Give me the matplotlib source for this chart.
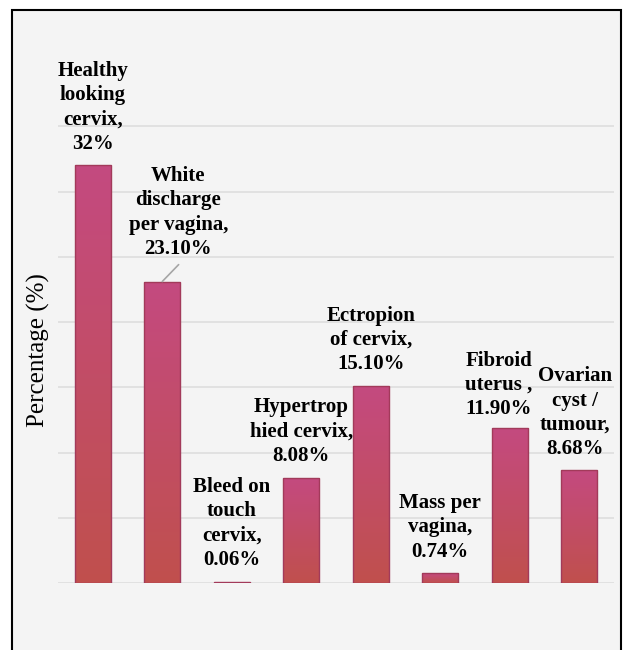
import matplotlib
matplotlib.use('Agg')
import matplotlib.pyplot as plt
import numpy as np
from matplotlib.colors import LinearSegmentedColormap
from matplotlib.patches import Rectangle

# findings and their share (%)
labels = ["Healthy\nlooking\ncervix,\n32%",
          "White\ndischarge\nper vagina,\n23.10%",
          "Bleed on\ntouch\ncervix,\n0.06%",
          "Hypertrop\nhied cervix,\n8.08%",
          "Ectropion\nof cervix,\n15.10%",
          "Mass per\nvagina,\n0.74%",
          "Fibroid\nuterus ,\n11.90%",
          "Ovarian\ncyst /\ntumour,\n8.68%"]
values = [32, 23.1, 0.06, 8.08, 15.1, 0.74, 11.9, 8.68]

# label offsets from bar top (pixels)
offsets = [(0, 58), (16, 69), (0, 59), (0, 46), (0, 46), (0, 46), (-11, 43), (-4, 57)]

W, H = 623, 650
fig = plt.figure(figsize=(W / 100, H / 100), dpi=100)
fig.patch.set_facecolor('white')
fig.add_artist(Rectangle((12 / W, -0.02), (621 - 12) / W, (H - 10) / H + 0.02,
                         transform=fig.transFigure, facecolor='#f4f4f4',
                         edgecolor='black', lw=1.5, zorder=0))

ax = fig.add_axes([58 / W, 1 - 583 / H, (614 - 58) / W, (583 - 61) / H])
ax.set_facecolor('none')

x = np.arange(len(values))
bars = ax.bar(x, values, width=0.52, facecolor='none', edgecolor='#a23a5a',
              lw=1.0, zorder=3)

cmap = LinearSegmentedColormap.from_list('grad', ['#c0504d', '#c44a80'])
grad = np.linspace(0, 1, 256).reshape(-1, 1)
for b in bars:
    x0, w, h = b.get_x(), b.get_width(), b.get_height()
    im = ax.imshow(grad, origin='lower', extent=(x0, x0 + w, 0, h), cmap=cmap,
                   aspect='auto', zorder=2, interpolation='bilinear')
    im.set_clip_path(b)

ax.set_xlim(-0.5, len(values) - 0.5)
ax.set_ylim(0, 40)
ax.set_yticks(range(0, 36, 5))
ax.yaxis.grid(True, color='#e0e0e0', lw=1.3)
ax.set_axisbelow(True)
ax.tick_params(left=False, labelleft=False, bottom=False, labelbottom=False)
for s in ax.spines.values():
    s.set_visible(False)

for i, (lab, v) in enumerate(zip(labels, values)):
    dx, dy = offsets[i]
    kw = {}
    if i == 1:
        kw['arrowprops'] = dict(arrowstyle='-', color='#a6a6a6', lw=1.2,
                                shrinkA=3, shrinkB=0, relpos=(0.56, 0))
    ax.annotate(lab, xy=(i, v), xytext=(dx, dy), textcoords='offset pixels',
                ha='center', va='center', fontsize=15, fontweight='bold',
                family='Liberation Serif', linespacing=1.28, annotation_clip=False,
                zorder=4, **kw)

fig.text(38 / W, 1 - 350 / H, 'Percentage (%)', rotation=90, fontsize=18,
         family='Liberation Serif', ha='center', va='center')

fig.savefig('out.png', dpi=100)
